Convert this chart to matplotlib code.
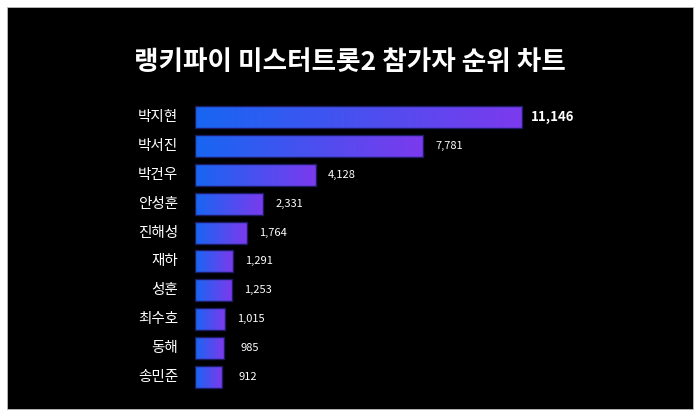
import matplotlib
matplotlib.use("Agg")
import matplotlib.pyplot as plt
import numpy as np
from matplotlib.patches import Rectangle
from matplotlib.colors import LinearSegmentedColormap

plt.rcParams['font.family'] = ['Noto Sans CJK KR', 'DejaVu Sans']

title = "랭키파이 미스터트롯2 참가자 순위 차트"
names = ["박지현", "박서진", "박건우", "안성훈", "진해성", "재하", "성훈", "최수호", "동해", "송민준"]
values = [11146, 7781, 4128, 2331, 1764, 1291, 1253, 1015, 985, 912]

fig = plt.figure(figsize=(7, 4.2), dpi=100, facecolor="white")
fig.patches.append(Rectangle((7/700, 11/420), 686/700, 402/420, transform=fig.transFigure,
                             facecolor="black", edgecolor="#bbbbbb", linewidth=0.6, zorder=-5))

ax = fig.add_axes([195/700, 25.7/420, 498/700, 294.6/420])
ax.set_zorder(2)
ax.set_facecolor("none")
for s in ax.spines.values():
    s.set_visible(False)
ax.set_xticks([])
ax.set_yticks([])

cmap = LinearSegmentedColormap.from_list("g", ["#1766f2", "#7c3aed"])
grad = np.linspace(0, 1, 256).reshape(1, -1)
h = 0.76
y = np.arange(len(names))
bars = ax.barh(y, values, height=h, color="none", edgecolor="#1c1c66", linewidth=1.0, zorder=3)
for b in bars:
    x0, y0, w, hh = b.get_x(), b.get_y(), b.get_width(), b.get_height()
    ax.imshow(grad, extent=(x0, x0 + w, y0 + hh, y0), aspect="auto", cmap=cmap, zorder=2)
ax.set_xlim(0, 16974)
ax.set_ylim(len(names) - 0.4, -0.6)

for i, (n, v) in enumerate(zip(names, values)):
    ax.annotate(n, xy=(0, i), xytext=(-17 / 1.389, 0), textcoords="offset points",
                ha="right", va="center", color="white", fontsize=10.5)
    if i == 0:
        ax.annotate(f"{v:,}", xy=(v, i), xytext=(31 / 1.389, 0), textcoords="offset points",
                    ha="center", va="center", color="white", fontsize=9.5, fontweight="bold")
    else:
        ax.annotate(f"{v:,}", xy=(v, i), xytext=(26 / 1.389, 0), textcoords="offset points",
                    ha="center", va="center", color="white", fontsize=8)

fig.text(0.5, (420 - 63) / 420, title, ha="center", va="center", color="white",
         fontsize=19.2, fontweight="bold")

fig.savefig("out.png", dpi=100, facecolor="white")
